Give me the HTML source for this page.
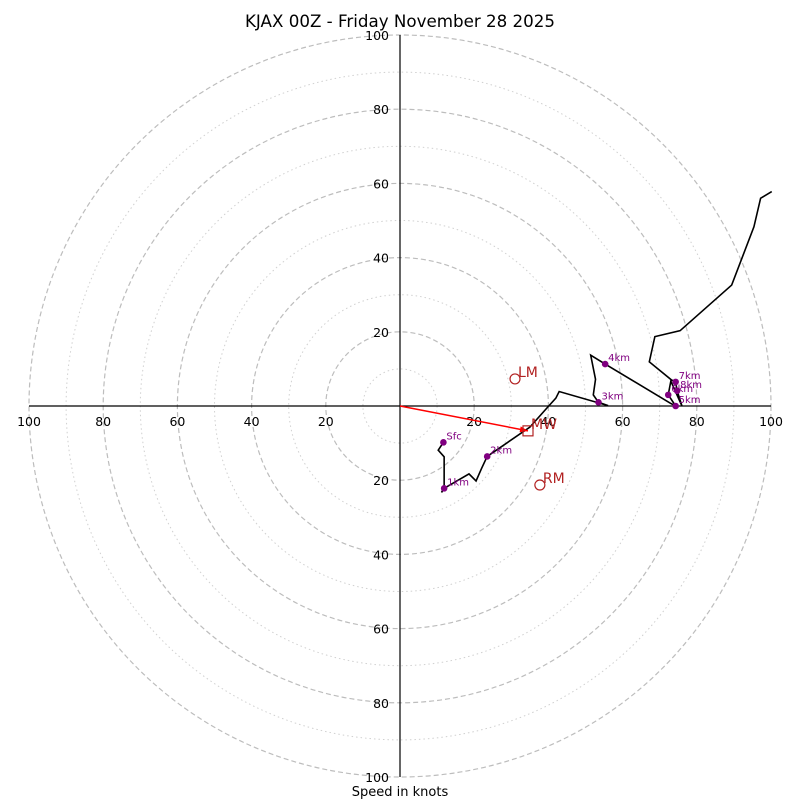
<!DOCTYPE html>
<html><head><meta charset="utf-8"><style>
body{margin:0;background:#fff;}
svg text{font-family:"DejaVu Sans","Liberation Sans",sans-serif;}
</style></head><body>
<svg id="c" width="800" height="800" viewBox="0 0 800 800" xmlns="http://www.w3.org/2000/svg">
<text x="400" y="27" font-size="16.7" text-anchor="middle">KJAX 00Z - Friday November 28 2025</text>
<text x="400" y="796" font-size="13" text-anchor="middle">Speed in knots</text>
<g id="rings"></g><g id="axes"></g><g id="series"></g>
</svg>
<script>
const ringValues=[10,20,30,40,50,60,70,80,90,100];
const tickValues=[20,40,60,80,100];
const windU=[11.7,10.3,11.9,11.9,11.2,11.9,18.6,20.5,22.0,23.5,35.0,39.9,42.0,42.9,56.1,53.5,52.1,52.7,51.4,55.3,72.8,74.3,72.3,73.0,76.0,74.7,74.3,73.2,67.2,68.7,75.5,89.4,95.4,97.2,100.2];
const windV=[-9.8,-11.9,-13.7,-21.8,-23.3,-22.2,-18.3,-20.2,-16.8,-13.6,-5.7,-0.2,2.1,3.9,0.1,1.0,3.0,7.2,13.7,11.3,0.8,0.0,3.0,6.7,0,4.1,6.5,7.0,11.9,18.7,20.3,32.6,48.3,56.0,57.8];
const levelNames=["Sfc","1km","2km","3km","4km","5km","6km","7km","8km"];
const levelU=[11.7,11.9,23.5,53.5,55.3,74.3,72.3,74.3,74.7];
const levelV=[-9.8,-22.2,-13.6,1.0,11.3,0.0,3.0,6.5,4.1];
const motionNames=["LM","RM","MW"];
const motionU=[31.0,37.7,34.5];
const motionV=[7.3,-21.3,-6.7];
const cx=400,cy=406,s=3.71;
const X=u=>cx+u*s, Y=v=>cy-v*s;
const NS="http://www.w3.org/2000/svg";
function mk(t,a,p){const e=document.createElementNS(NS,t);for(const k in a)e.setAttribute(k,a[k]);p.appendChild(e);return e;}
const rings=document.getElementById('rings'),axes=document.getElementById('axes'),ser=document.getElementById('series');
ringValues.forEach(r=>{
 const e=mk('circle',{cx:cx,cy:cy,r:r*s,fill:'none',stroke:r%20?'#d0d0d0':'#bdbdbd','stroke-width':r%20?1:1.2,'stroke-dasharray':r%20?'1.5,3':'5,3'},rings);
 
 
});
let l=mk('line',{x1:X(-100),y1:cy,x2:X(100),y2:cy,stroke:'#000','stroke-width':1.2},axes);


l=mk('line',{x1:cx,y1:Y(100),x2:cx,y2:Y(-100),stroke:'#000','stroke-width':1.2},axes);


tickValues.forEach(t=>{
 [-1,1].forEach(sg=>{
  let tx=mk('text',{x:X(sg*t),y:cy+20,'font-size':12.5,'text-anchor':'middle'},axes);tx.textContent=t;
  
  
  let ty=mk('text',{x:cx-11,y:Y(sg*t)+5,'font-size':12.5,'text-anchor':'end'},axes);ty.textContent=t;
  
  
 });
});
const pl=mk('polyline',{points:windU.map((u,i)=>X(u)+','+Y(windV[i])).join(' '),fill:'none',stroke:'#000','stroke-width':1.6},ser);


const ar=mk('line',{x1:cx,y1:cy,x2:X(motionU[2]),y2:Y(motionV[2]),stroke:'red','stroke-width':1.5},ser);


const ang=Math.atan2(Y(motionV[2])-cy,X(motionU[2])-cx);
const hx=X(motionU[2]),hy=Y(motionV[2]);
const ah=mk('polygon',{points:`${hx},${hy} ${hx-8*Math.cos(ang)+3*Math.sin(ang)},${hy-8*Math.sin(ang)-3*Math.cos(ang)} ${hx-8*Math.cos(ang)-3*Math.sin(ang)},${hy-8*Math.sin(ang)+3*Math.cos(ang)}`,fill:'red'},ser);


levelNames.forEach((n,i)=>{
 const d=mk('circle',{cx:X(levelU[i]),cy:Y(levelV[i]),r:3.3,fill:'purple'},ser);
 
 
 const t=mk('text',{x:X(levelU[i])+3,y:Y(levelV[i])-3,'font-size':10,fill:'purple'},ser);t.textContent=n;
 
 
});
motionNames.forEach((n,i)=>{
 const x=X(motionU[i]),y=Y(motionV[i]);
 let m;
 if(n==='MW')m=mk('rect',{x:x-5,y:y-5,width:10,height:10,fill:'none',stroke:'#b22222','stroke-width':1.2},ser);
 else m=mk('circle',{cx:x,cy:y,r:5,fill:'none',stroke:'#b22222','stroke-width':1.2},ser);
 
 
 const t=mk('text',{x:x+3,y:y-2,'font-size':14,fill:'#b22222'},ser);t.textContent=n;
 
 
});
</script>
</body></html>
